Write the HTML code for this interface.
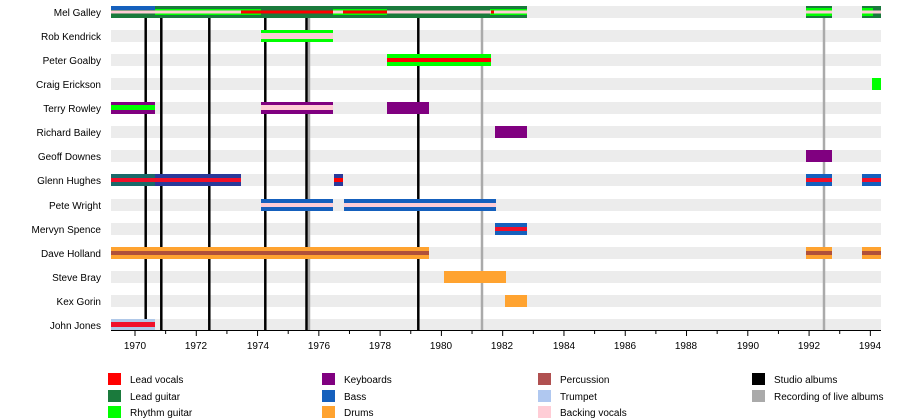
<!DOCTYPE html>
<html><head><meta charset="utf-8"><style>
body{margin:0;background:#fff}
svg{display:block}
text{font-family:"Liberation Sans",sans-serif;font-size:10px;fill:#000}
</style></head><body>
<svg width="900" height="420" viewBox="0 0 900 420">
<g fill="#ececec">
<rect x="111" y="6" width="770" height="12"/><rect x="111" y="30" width="770" height="12"/>
<rect x="111" y="54" width="770" height="12"/><rect x="111" y="78" width="770" height="12"/>
<rect x="111" y="102" width="770" height="12"/><rect x="111" y="126" width="770" height="12"/>
<rect x="111" y="150" width="770" height="12"/><rect x="111" y="174" width="770" height="12"/>
<rect x="111" y="199" width="770" height="12"/><rect x="111" y="223" width="770" height="12"/>
<rect x="111" y="247" width="770" height="12"/><rect x="111" y="271" width="770" height="12"/>
<rect x="111" y="295" width="770" height="12"/><rect x="111" y="319" width="770" height="12"/>
</g>
<g stroke-width="2.5">
<line x1="309" y1="10" x2="309" y2="330" stroke="#aaa"/>
<line x1="482" y1="10" x2="482" y2="330" stroke="#aaa"/>
<line x1="824" y1="10" x2="824" y2="330" stroke="#aaa"/>
<g stroke="#000">
<line x1="145.7" y1="10" x2="145.7" y2="330"/><line x1="161.3" y1="10" x2="161.3" y2="330"/>
<line x1="209.3" y1="10" x2="209.3" y2="330"/><line x1="265.3" y1="10" x2="265.3" y2="330"/>
<line x1="306.5" y1="10" x2="306.5" y2="330"/><line x1="418.3" y1="10" x2="418.3" y2="330"/>
</g></g>
<!-- Mel Galley -->
<rect x="111" y="6" width="416" height="12" fill="#1a7a3c"/>
<rect x="111" y="6" width="44" height="4" fill="#1560bd"/>
<rect x="155" y="9" width="106" height="6" fill="#0f0"/>
<rect x="333" y="9" width="54" height="6" fill="#0f0"/>
<rect x="490" y="9" width="37" height="6" fill="#0f0"/>
<rect x="111" y="10.5" width="416" height="3" fill="#ffcdd6"/>
<rect x="241" y="10.5" width="92" height="3" fill="#f00"/>
<rect x="343" y="10.5" width="44" height="3" fill="#f00"/>
<rect x="491" y="10.5" width="3" height="3" fill="#f00"/>
<rect x="806" y="6" width="26" height="12" fill="#1a7a3c"/><rect x="806" y="8" width="26" height="8" fill="#0f0"/><rect x="806" y="10.5" width="26" height="3" fill="#ffcdd6"/>
<rect x="862" y="6" width="19" height="12" fill="#1a7a3c"/><rect x="862" y="8" width="11" height="8" fill="#0f0"/><rect x="862" y="10.5" width="19" height="3" fill="#ffcdd6"/>
<!-- Rob Kendrick -->
<rect x="261" y="30" width="72" height="12" fill="#0f0"/><rect x="261" y="33" width="72" height="6" fill="#ffcdd6"/>
<!-- Peter Goalby -->
<rect x="387" y="54" width="104" height="12" fill="#0f0"/><rect x="387" y="58" width="104" height="4" fill="#f00"/>
<!-- Craig -->
<rect x="872" y="78" width="9" height="12" fill="#0f0"/>
<!-- Terry Rowley -->
<rect x="111" y="102" width="44" height="12" fill="#800080"/><rect x="111" y="105" width="44" height="5" fill="#0f0"/>
<rect x="261" y="102" width="72" height="12" fill="#800080"/><rect x="261" y="105" width="72" height="5" fill="#ffcdd6"/>
<rect x="387" y="102" width="42" height="12" fill="#800080"/>
<!-- Richard Bailey -->
<rect x="495" y="126" width="32" height="12" fill="#800080"/>
<!-- Geoff Downes -->
<rect x="806" y="150" width="26" height="12" fill="#800080"/>
<!-- Glenn Hughes -->
<rect x="111" y="174" width="130" height="12" fill="#2a3a9a"/>
<rect x="111" y="174" width="44" height="12" fill="#1a6a6a"/>
<rect x="111" y="178" width="130" height="4" fill="#f0102a"/>
<rect x="334" y="174" width="9" height="12" fill="#2a3a9a"/><rect x="334" y="178" width="9" height="4" fill="#f00"/>
<rect x="806" y="174" width="26" height="12" fill="#1560bd"/><rect x="806" y="178" width="26" height="4" fill="#f0102a"/>
<rect x="862" y="174" width="19" height="12" fill="#1560bd"/><rect x="862" y="178" width="19" height="4" fill="#f0102a"/>
<!-- Pete Wright -->
<rect x="261" y="199" width="72" height="12" fill="#1560bd"/><rect x="261" y="203" width="72" height="4" fill="#ffcdd6"/>
<rect x="344" y="199" width="152" height="12" fill="#1560bd"/><rect x="344" y="203" width="152" height="4" fill="#ffcdd6"/>
<!-- Mervyn Spence -->
<rect x="495" y="223" width="32" height="12" fill="#1560bd"/><rect x="495" y="227" width="32" height="4" fill="#f0102a"/>
<!-- Dave Holland -->
<rect x="111" y="247" width="318" height="12" fill="#ffa330"/><rect x="111" y="251" width="318" height="4" fill="#b0503a"/>
<rect x="806" y="247" width="26" height="12" fill="#ffa330"/><rect x="806" y="251" width="26" height="4" fill="#b0503a"/>
<rect x="862" y="247" width="19" height="12" fill="#ffa330"/><rect x="862" y="251" width="19" height="4" fill="#b0503a"/>
<!-- Steve Bray / Kex Gorin -->
<rect x="444" y="271" width="62" height="12" fill="#ffa330"/>
<rect x="505" y="295" width="22" height="12" fill="#ffa330"/>
<!-- John Jones -->
<rect x="111" y="319" width="44" height="12" fill="#b0c8e8"/><rect x="111" y="322" width="44" height="5" fill="#f0102a"/>
<!-- names -->
<g text-anchor="end">
<text x="101" y="16">Mel Galley</text><text x="101" y="40">Rob Kendrick</text>
<text x="101" y="64">Peter Goalby</text><text x="101" y="88">Craig Erickson</text>
<text x="101" y="112">Terry Rowley</text><text x="101" y="136">Richard Bailey</text>
<text x="101" y="160">Geoff Downes</text><text x="101" y="184">Glenn Hughes</text>
<text x="101" y="209">Pete Wright</text><text x="101" y="233">Mervyn Spence</text>
<text x="101" y="257">Dave Holland</text><text x="101" y="281">Steve Bray</text>
<text x="101" y="305">Kex Gorin</text><text x="101" y="329">John Jones</text>
</g>
<!-- axis -->
<line x1="111" y1="330.5" x2="881" y2="330.5" stroke="#000"/>
<g stroke="#000" id="ticks"></g>
<g text-anchor="middle">
<text x="135" y="349">1970</text><text x="196" y="349">1972</text><text x="258" y="349">1974</text>
<text x="319" y="349">1976</text><text x="380" y="349">1978</text><text x="441" y="349">1980</text>
<text x="502" y="349">1982</text><text x="564" y="349">1984</text><text x="625" y="349">1986</text>
<text x="686" y="349">1988</text><text x="748" y="349">1990</text><text x="809" y="349">1992</text>
<text x="870" y="349">1994</text>
</g>
<!-- legend -->
<rect x="108" y="373" width="13" height="12" fill="#f00"/><text x="130" y="383">Lead vocals</text>
<rect x="108" y="390" width="13" height="12" fill="#1a7a3c"/><text x="130" y="400">Lead guitar</text>
<rect x="108" y="406" width="13" height="12" fill="#0f0"/><text x="130" y="416">Rhythm guitar</text>
<rect x="322" y="373" width="13" height="12" fill="#800080"/><text x="344" y="383">Keyboards</text>
<rect x="322" y="390" width="13" height="12" fill="#1560bd"/><text x="344" y="400">Bass</text>
<rect x="322" y="406" width="13" height="12" fill="#ffa330"/><text x="344" y="416">Drums</text>
<rect x="538" y="373" width="13" height="12" fill="#b05050"/><text x="560" y="383">Percussion</text>
<rect x="538" y="390" width="13" height="12" fill="#b0c8f0"/><text x="560" y="400">Trumpet</text>
<rect x="538" y="406" width="13" height="12" fill="#ffcdd6"/><text x="560" y="416">Backing vocals</text>
<rect x="752" y="373" width="13" height="12" fill="#000"/><text x="774" y="383">Studio albums</text>
<rect x="752" y="390" width="13" height="12" fill="#aaa"/><text x="774" y="400">Recording of live albums</text>
</svg>
<script>
var g=document.getElementById('ticks'),s='';
for(var y=1970;y<=1994;y++){var x=135+30.64*(y-1970);s+='<line x1="'+x+'" y1="331" x2="'+x+'" y2="'+(y%2?334:336)+'"/>';}
g.innerHTML=s;
</script>
</body></html>
